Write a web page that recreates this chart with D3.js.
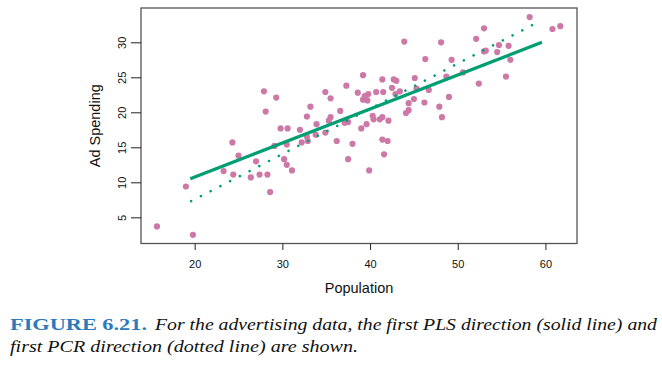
<!DOCTYPE html>
<html>
<head>
<meta charset="utf-8">
<script src="https://cdn.jsdelivr.net/npm/d3@7"></script>
<style>
  html, body { margin: 0; padding: 0; background: #fff; }
  svg { display: block; }
</style>
</head>
<body>
<svg id="chart" width="662" height="368"></svg>
<script>
// ---- data ----
const population = [
  15.7, 19.8, 19.0, 24.3, 25.0, 23.3, 24.4, 27.0, 26.4, 27.4,
  28.3, 28.6, 29.1, 30.2, 30.5, 31.1, 30.5, 29.8, 30.6, 32.0,
  27.9, 29.3, 28.1, 39.2, 37.3, 41.4, 34.9, 35.5, 38.6, 39.4,
  39.8, 39.2, 39.7, 40.7, 33.2, 32.8, 33.9, 35.5, 35.3, 36.6,
  37.1, 37.5, 32.8, 34.9, 32.2, 32.9, 33.8, 36.2, 38.0, 37.5,
  39.9, 39.0, 39.6, 40.3, 40.4, 41.1, 42.1, 41.4, 42.0, 41.6,
  43.9, 48.1, 52.1, 46.3, 49.3, 50.6, 52.4, 48.7, 42.7, 43.0,
  42.5, 41.5, 42.9, 43.4, 45.1, 45.3, 46.7, 45.0, 44.4, 44.4,
  44.1, 46.2, 47.9, 48.2, 49.0, 41.4, 58.2, 60.8, 61.7, 53.0,
  54.7, 55.8, 54.5, 53.0, 53.2, 56.0, 55.5
];
const adSpending = [
  3.7, 2.5, 9.4, 15.7, 13.8, 11.6, 11.1, 13.0, 10.7, 11.1,
  11.1, 8.6, 15.2, 13.3, 12.5, 11.7, 15.4, 17.7, 17.7, 17.5,
  23.0, 22.1, 20.1, 25.3, 23.8, 24.7, 22.9, 22.0, 22.8, 22.3,
  22.6, 21.8, 21.7, 22.9, 20.8, 19.4, 18.3, 19.3, 18.8, 20.2,
  18.5, 18.6, 16.5, 17.1, 15.7, 15.9, 16.8, 15.9, 15.5, 13.3,
  11.7, 17.7, 18.3, 19.5, 19.0, 19.0, 18.8, 16.1, 15.9, 14.0,
  30.1, 30.0, 30.5, 27.6, 27.5, 25.7, 24.1, 25.1, 24.7, 24.5,
  23.5, 22.9, 22.6, 23.0, 24.9, 23.4, 23.2, 21.9, 21.3, 20.3,
  19.9, 21.4, 20.8, 19.3, 22.2, 19.3, 33.6, 31.9, 32.3, 32.0,
  29.6, 29.5, 28.6, 28.7, 28.8, 27.5, 25.1
];
// first PLS direction (solid) and first PCR direction (dotted)
const plsX = [19.5, 59.6];
const plsY = [10.5, 30.0];
const pcrX = [19.6, 59.5];
const pcrY = [7.3, 33.1];

const xTicks = [20, 30, 40, 50, 60];
const yTicks = [5, 10, 15, 20, 25, 30];
const xLabel = "Population";
const yLabel = "Ad Spending";

// ---- drawing ----
const svg = d3.select("#chart");
const L = 141, R = 577, T = 8, B = 243.5;
const x = d3.scaleLinear().domain([13.88, 63.6]).range([L, R]);
const y = d3.scaleLinear().domain([1.26, 34.9]).range([B, T]);

const ptColor = "#cc79a7";
const lnColor = "#009e73";
const axisFont = "'Liberation Sans', Arial, Helvetica, sans-serif";

// points
svg.append("g").selectAll("circle")
  .data(population.map((p, i) => [p, adSpending[i]]))
  .join("circle")
  .attr("cx", d => x(d[0]))
  .attr("cy", d => y(d[1]))
  .attr("r", 3.1)
  .attr("fill", ptColor);

const line = d3.line().x(d => x(d[0])).y(d => y(d[1]));
svg.append("path")
  .attr("d", line(plsX.map((v, i) => [v, plsY[i]])))
  .attr("fill", "none")
  .attr("stroke", lnColor)
  .attr("stroke-width", 3.2);
svg.append("path")
  .attr("d", line(pcrX.map((v, i) => [v, pcrY[i]])))
  .attr("fill", "none")
  .attr("stroke", lnColor)
  .attr("stroke-width", 2.6)
  .attr("stroke-linecap", "round")
  .attr("stroke-dasharray", "0.01 10.95");

// box
svg.append("rect")
  .attr("x", L).attr("y", T)
  .attr("width", R - L).attr("height", B - T)
  .attr("fill", "none")
  .attr("stroke", "#555")
  .attr("stroke-width", 1.3);

// x axis
const gx = svg.append("g")
  .attr("transform", `translate(0,${B})`)
  .call(d3.axisBottom(x).tickValues(xTicks).tickSize(6.5).tickFormat(d3.format("d")));
gx.select(".domain").remove();
gx.selectAll("line").attr("stroke", "#222").attr("stroke-width", 1);
gx.selectAll("text")
  .attr("y", 24.5).attr("dy", null)
  .attr("fill", "#111")
  .style("font-family", axisFont).style("font-size", "11px");

// y axis
const gy = svg.append("g")
  .attr("transform", `translate(${L},0)`)
  .call(d3.axisLeft(y).tickValues(yTicks).tickSize(10).tickFormat(d3.format("d")));
gy.select(".domain").remove();
gy.selectAll("line").attr("stroke", "#222").attr("stroke-width", 1);
gy.selectAll("text")
  .attr("x", null).attr("dy", null)
  .attr("transform", "translate(-15,0) rotate(-90)")
  .attr("text-anchor", "middle")
  .attr("fill", "#111")
  .style("font-family", axisFont).style("font-size", "11px");

// axis titles
svg.append("text")
  .attr("x", 359).attr("y", 293)
  .attr("text-anchor", "middle")
  .style("font-family", axisFont).style("font-size", "14.5px")
  .attr("fill", "#111")
  .text(xLabel);
svg.append("text")
  .attr("transform", `translate(100,${(T + B) / 2}) rotate(-90)`)
  .attr("text-anchor", "middle")
  .style("font-family", axisFont).style("font-size", "14.5px")
  .attr("fill", "#111")
  .text(yLabel);

// caption
const capFont = "'Liberation Serif', 'Times New Roman', serif";
svg.append("text")
  .attr("x", 10).attr("y", 330)
  .attr("textLength", 137).attr("lengthAdjust", "spacingAndGlyphs")
  .style("font-family", capFont).style("font-size", "17px").style("font-weight", "bold")
  .attr("fill", "#2b7bba")
  .text("FIGURE 6.21.");
svg.append("text")
  .attr("x", 155).attr("y", 330)
  .attr("textLength", 502).attr("lengthAdjust", "spacingAndGlyphs")
  .style("font-family", capFont).style("font-size", "17px").style("font-style", "italic")
  .attr("fill", "#111")
  .text("For the advertising data, the first PLS direction (solid line) and");
svg.append("text")
  .attr("x", 10).attr("y", 352)
  .attr("textLength", 348).attr("lengthAdjust", "spacingAndGlyphs")
  .style("font-family", capFont).style("font-size", "17px").style("font-style", "italic")
  .attr("fill", "#111")
  .text("first PCR direction (dotted line) are shown.");
</script>
</body>
</html>
